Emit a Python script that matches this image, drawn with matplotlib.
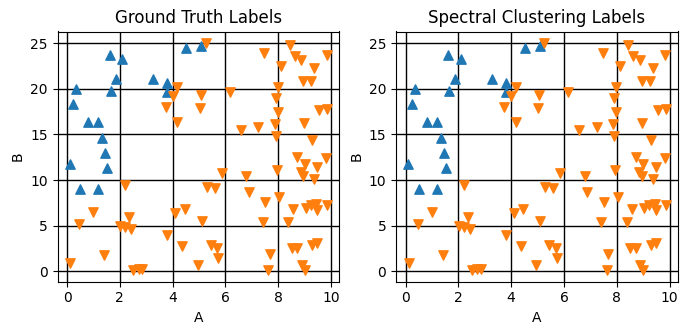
import numpy as np
import matplotlib.pyplot as plt

# class 0 points (blue)
a0 = [0.11, 0.24, 0.35, 0.51, 0.80, 1.18, 1.18, 1.34, 1.44, 1.53, 1.65, 1.61, 1.86, 2.10,
      3.27, 3.79, 3.79, 4.52, 5.09]
b0 = [11.8, 18.3, 20.0, 9.0, 16.4, 9.0, 16.4, 14.6, 13.0, 11.3, 19.7, 23.7, 21.05, 23.3,
      21.05, 20.6, 19.6, 24.5, 24.7]

# class 1 points (orange)
a1 = [4.18, 4.00, 3.74, 4.18, 5.25, 8.44, 7.47, 8.63, 8.87, 9.84, 9.37, 8.12, 8.94, 9.25,
      5.07, 6.17, 7.98, 7.90, 5.03, 7.98, 9.56, 9.85, 7.87, 8.96, 6.58, 7.24, 7.91, 9.28,
      8.73, 9.81,
      2.21, 1.00, 2.36, 0.47, 2.02, 2.21, 2.43, 4.11, 4.46, 3.79, 4.37, 1.42, 0.13, 2.50,
      2.72, 2.85,
      9.01, 9.47, 7.95, 5.86, 6.79, 8.86, 8.95, 9.37, 5.29, 5.60, 6.89, 7.50, 8.03, 8.57,
      9.05, 9.24, 9.43, 9.47, 9.85, 5.10, 7.41, 8.38, 5.44, 5.69, 5.72, 4.95, 7.68, 7.63,
      8.52, 8.73, 9.30, 9.47, 8.89, 9.01]
b1 = [20.2, 19.2, 18.0, 16.4, 25.0, 24.8, 23.9, 23.6, 23.1, 23.7, 22.3, 22.5, 20.8, 20.8,
      19.3, 19.6, 20.2, 19.0, 17.9, 17.5, 17.65, 17.8, 16.1, 16.3, 15.5, 15.8, 14.8, 14.4,
      12.5, 12.4,
      9.5, 6.5, 5.95, 5.2, 5.0, 4.85, 4.6, 6.4, 6.8, 3.95, 2.8, 1.8, 0.9, 0.2,
      0.3, 0.25,
      11.8, 11.4, 11.15, 10.8, 10.4, 10.9, 10.45, 10.15, 9.25, 9.15, 8.7, 7.6, 8.15, 6.8,
      6.95, 7.3, 7.4, 6.7, 7.3, 5.5, 5.4, 5.4, 2.9, 2.55, 1.5, 0.73, 1.86, 0.2,
      2.55, 2.55, 2.9, 3.1, 0.73, 0.2]

titles = ["Ground Truth Labels", "Spectral Clustering Labels"]

fig, axes = plt.subplots(1, 2, figsize=(6.87, 3.35), dpi=100)
plt.subplots_adjust(left=57.5/687, right=678/687, bottom=53.5/335, top=303.5/335, wspace=0.201)

for ax, title in zip(axes, titles):
    ax.scatter(a0, b0, marker="^", s=45, color="#1f77b4")
    ax.scatter(a1, b1, marker="v", s=45, color="#ff7f0e")
    ax.set_title(title)
    ax.set_xlabel("A")
    ax.set_ylabel("B")
    ax.set_xticks([0, 2, 4, 6, 8, 10])
    ax.set_yticks([0, 5, 10, 15, 20, 25])
    ax.set_xlim(-0.36, 10.32)
    ax.set_ylim(-1.1, 26.26)
    ax.grid(True, color="black", linewidth=1)
    ax.set_axisbelow(True)

fig.savefig("out.png")
